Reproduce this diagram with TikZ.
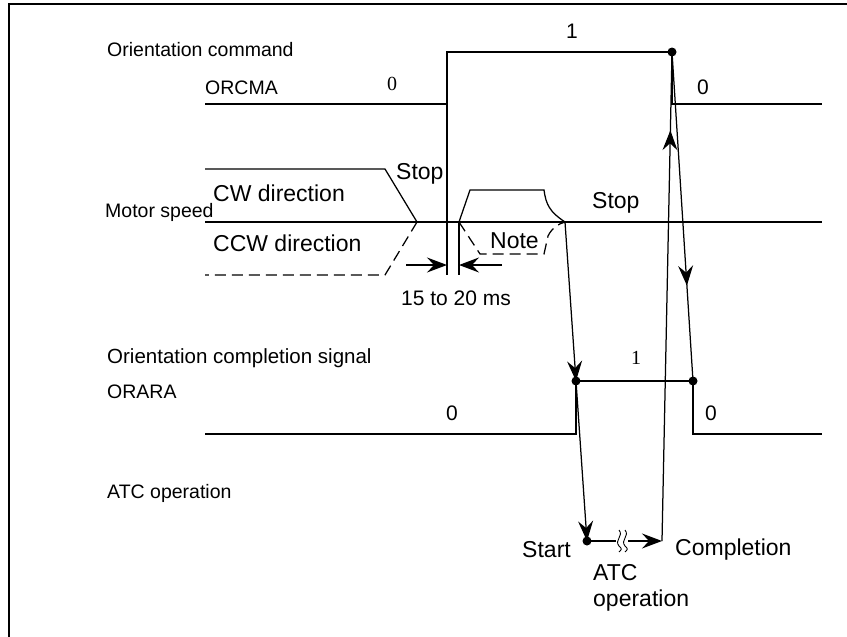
\documentclass[tikz,border=0pt]{standalone}
\usepackage{fontspec}
\setmainfont{Liberation Sans}
\newfontfamily\serifnum{Liberation Serif}
\usetikzlibrary{arrows.meta,decorations.markings}
\begin{document}
\begin{tikzpicture}[x=1pt,y=-1pt,
  sig/.style={line width=1.25pt},
  lbl/.style={inner sep=0pt,anchor=west,font=\fontsize{19.5}{22}\selectfont},
  big/.style={inner sep=0pt,anchor=west,font=\fontsize{23}{25}\selectfont},
  num/.style={inner sep=0pt,font=\fontsize{21}{23}\selectfont},
  snum/.style={inner sep=0pt,font=\serifnum\fontsize{20}{22}\selectfont},
  tip/.style={-{Stealth[length=20pt,width=15pt,inset=7pt]}},
  midtip/.style={postaction={decorate},decoration={markings,mark=at position #1 with {\arrow{Stealth[length=20pt,width=15pt,inset=7pt]}}}},
  dot/.style={circle,fill=black,inner sep=0pt,minimum size=9pt},
  dsh/.style={line width=1.25pt,dash pattern=on 11pt off 6pt}]
\useasboundingbox (0,0) rectangle (847,637);
% frame
\draw[line width=1.4pt] (9,637) -- (9,4) -- (847,4);
% labels
\node[lbl] (t1) at (107,50) {Orientation command};
\node[lbl] (t2) at (205,88) {ORCMA};
\node[lbl,font=\fontsize{19.5}{22}\selectfont] (t3) at (105,212) {Motor speed};
\node[big] (t4) at (213,193) {CW direction};
\node[big] (t5) at (213,243) {CCW direction};
\node[big] (t6) at (396,174) {Stop};
\node[big] (t7) at (592,203) {Stop};
\node[big] (t8) at (490,241) {Note};
\node[inner sep=0pt,font=\fontsize{21}{23}\selectfont] (t9) at (456,298) {15 to 20 ms};
\node[lbl,font=\fontsize{20.5}{23}\selectfont] (t10) at (107,358) {Orientation completion signal};
\node[lbl] (t11) at (107,392) {ORARA};
\node[lbl] (t12) at (107,493) {ATC operation};
\node[big,anchor=east] (t13) at (571,550) {Start};
\node[big] (t14) at (675,550) {Completion};
\node[big] (t15) at (593,573) {ATC};
\node[big] (t16) at (593,601) {operation};
\node[num] (n1) at (572,31) {1};
\node[snum] (n2) at (392,84) {0};
\node[num] (n3) at (703,87) {0};
\node[num] (n4) at (452,413) {0};
\node[num] (n5) at (711,413) {0};
\node[snum] (n6) at (636,358) {1};
% key points
\coordinate (cmdHi) at (672,52);
\coordinate (ackLo) at (576,381);
\coordinate (ackHi) at (693,381);
\coordinate (stopPt) at (565,222);
\coordinate (atcS) at (587,541);
\coordinate (atcE) at (662,541);
% ORCMA
\draw[sig] (205,104) -- (447,104) -- (447,52) -- (cmdHi) -- (672,104) -- (822,104);
% ORARA
\draw[sig] (205,434) -- (576,434) -- (ackLo) -- (ackHi) -- (693,434) -- (822,434);
% motor speed baseline
\draw[sig] (205,222) -- (822,222);
% CW before
\draw[sig] (205,169) -- (385,169) -- (417,222);
% CCW before
\draw[dsh] (417,222) -- (385,275) -- (205,275);
% CW after
\draw[sig] (459,222) -- (470,190) -- (544,190) .. controls (546,205) and (550,212) .. (stopPt);
% CCW after
\draw[dsh] (459,222) -- (480,254) -- (544,254) -- (548,236) .. controls (552,228) and (558,224) .. (stopPt);
% 15-20 ms markers
\draw[sig] (447,104) -- (447,275);
\draw[sig] (459,222) -- (459,275);
\draw[sig,tip] (406,265) -- (447,265);
\draw[sig,tip] (502,265) -- (459,265);
% causal arrows
\draw[sig,tip] (stopPt) -- (ackLo);
\draw[sig,tip] (ackLo) -- (atcS);
\draw[sig,tip] (atcS) -- (atcE);
\draw[sig,midtip=0.84] (atcE) -- (cmdHi);
\draw[sig,midtip=0.71] (cmdHi) -- (ackHi);
% break mark
\fill[white] (616,532) rectangle (628,550);
\draw[line width=0.9pt] (619,530) .. controls (624,536) and (614,540) .. (619,546) .. controls (622,549) .. (619,552);
\draw[line width=0.9pt] (625,530) .. controls (630,536) and (620,540) .. (625,546) .. controls (628,549) .. (625,552);
% dots
\node[dot] (d1) at (cmdHi) {};
\node[dot] (d2) at (ackLo) {};
\node[dot] (d3) at (ackHi) {};
\node[dot] (d4) at (atcS) {};
\end{tikzpicture}
\end{document}
